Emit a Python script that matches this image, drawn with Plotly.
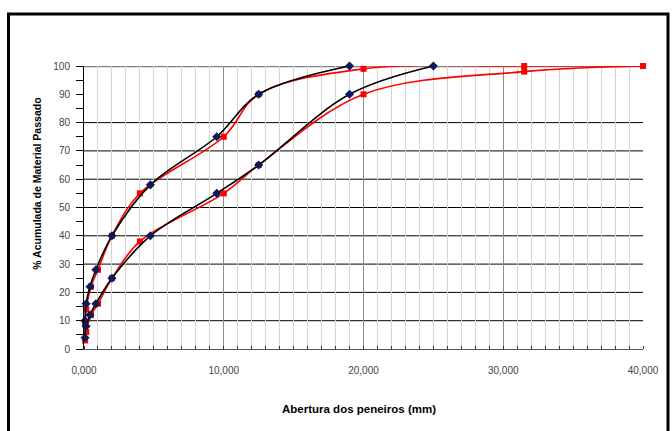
import plotly.graph_objects as go

# Sieve openings (mm)
peneiras_preto = [0.075, 0.15, 0.425, 0.85, 2.0, 4.75, 9.5, 12.5, 19.0, 25.0]
preto_fino = [10, 16, 22, 28, 40, 58, 75, 90, 100]
preto_grosso = [4, 8, 12, 16, 25, 40, 55, 65, 90, 100]

peneiras_vermelho = [0.08, 0.16, 0.5, 1.0, 2.0, 4.0, 10.0, 12.5, 20.0, 31.5, 40.0]
vermelho_fino = [9, 14, 22, 28, 40, 55, 75, 90, 99, 100, 100]
vermelho_grosso = [3, 6, 12, 16, 25, 38, 55, 65, 90, 98, 100]

x_ticks = [0, 10, 20, 30, 40]
x_tick_text = ["0,000", "10,000", "20,000", "30,000", "40,000"]
y_ticks = [0, 10, 20, 30, 40, 50, 60, 70, 80, 90, 100]
y_grid = [10, 20, 30, 40, 50, 60, 70, 80]

L, R, T, B = 84, 29, 66, 81.5
W, H = 672, 431
pw, ph = W - L - R, H - T - B


def px_x(p):
    return (p - L) / pw


def px_y(p):
    return (H - B - p) / ph


fig = go.Figure()

for xs, ys in [(peneiras_vermelho, vermelho_fino), (peneiras_vermelho, vermelho_grosso)]:
    fig.add_trace(go.Scatter(
        x=xs, y=ys, mode="lines+markers",
        line=dict(color="#ff0000", width=1.6, shape="spline", smoothing=1),
        marker=dict(symbol="square", size=6, color="#ff0000"),
        cliponaxis=False, showlegend=False))

for xs, ys in [(peneiras_preto[:len(preto_fino)], preto_fino), (peneiras_preto, preto_grosso)]:
    fig.add_trace(go.Scatter(
        x=xs, y=ys, mode="lines+markers",
        line=dict(color="#000000", width=1.6, shape="spline", smoothing=1),
        marker=dict(symbol="diamond", size=7, color="#0a1a5a"),
        cliponaxis=False, showlegend=False))

shapes = []
for g in y_grid:
    shapes.append(dict(type="line", xref="paper", yref="y", x0=0, x1=1, y0=g, y1=g,
                       line=dict(color="#000000", width=1), layer="below"))
shapes.append(dict(type="line", xref="paper", yref="y", x0=0, x1=1, y0=100, y1=100,
                   line=dict(color="#808080", width=2.5), layer="below"))
# outer frame
shapes.append(dict(type="rect", xref="paper", yref="paper",
                   x0=px_x(8.5), x1=px_x(668), y0=px_y(14), y1=px_y(460),
                   line=dict(color="#000000", width=3), layer="below"))

fig.update_layout(
    width=W, height=H, autosize=False,
    margin=dict(l=L, r=R, t=T, b=B, pad=0),
    paper_bgcolor="white", plot_bgcolor="white",
    font=dict(family="Liberation Sans, Arial, sans-serif", size=10, color="#333333"),
    shapes=shapes,
    xaxis=dict(range=[0, 40], tickvals=x_ticks, ticktext=x_tick_text,
               showgrid=True, gridcolor="#8c8c8c", gridwidth=1,
               minor=dict(dtick=1, showgrid=True, gridcolor="#d4d4d4", gridwidth=1,
                          ticks="inside", ticklen=3, tickcolor="#333333"),
               showline=True, linecolor="#555555", linewidth=1,
               ticks="", zeroline=False, tickfont=dict(size=10, color="#444444"),
               ticklabelstandoff=12),
    yaxis=dict(range=[0, 100], tickvals=y_ticks, showgrid=False,
               showline=True, linecolor="#000000", linewidth=1,
               ticks="outside", ticklen=7, tickcolor="#000000",
               minor=dict(dtick=5, ticks="outside", ticklen=7, tickcolor="#000000"),
               zeroline=False, tickfont=dict(size=10, color="#444444"),
               ticklabelstandoff=4),
    annotations=[
        dict(text="<b>% Acumulada de Material Passado</b>", textangle=-90,
             xref="paper", yref="paper", x=px_x(37), y=px_y(184),
             xanchor="center", yanchor="middle",
             showarrow=False, font=dict(size=10.5, color="#000000")),
        dict(text="<b>Abertura dos peneiros (mm)</b>",
             xref="paper", yref="paper", x=px_x(359), y=px_y(410),
             xanchor="center", yanchor="middle",
             showarrow=False, font=dict(size=11.5, color="#000000")),
    ],
)

fig.write_html("out.html", config={"displayModeBar": False},
               post_script="document.body.style.margin='0';")
